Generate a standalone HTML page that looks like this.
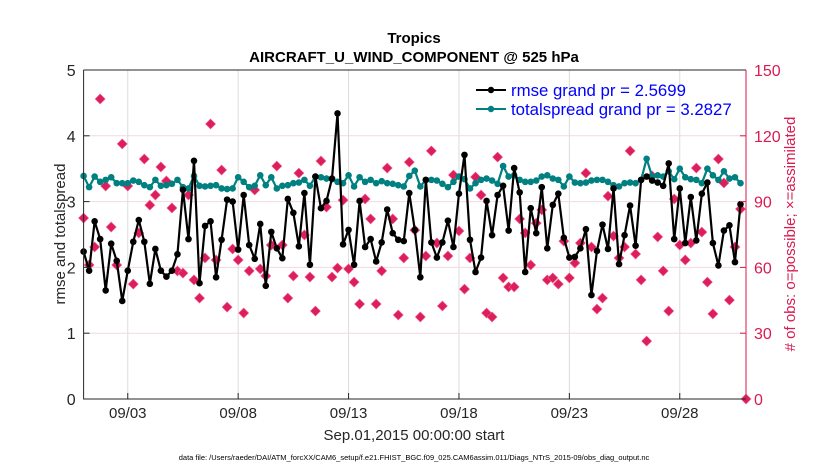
<!DOCTYPE html>
<html><head><meta charset="utf-8"><style>
html,body{margin:0;padding:0;background:#fff;}
svg{display:block;font-family:"Liberation Sans",sans-serif;}
</style></head><body>
<svg id="chart" width="830" height="470" viewBox="0 0 830 470">
<text x="414" y="43" text-anchor="middle" font-size="15" font-weight="bold">Tropics</text>
<text x="414" y="62" text-anchor="middle" font-size="15" font-weight="bold">AIRCRAFT_U_WIND_COMPONENT @ 525 hPa</text>
<g id="grid"></g>
<g id="marks"></g>
<g id="axes"></g>
<text transform="translate(65,234) rotate(-90)" text-anchor="middle" font-size="15" fill="#262626">rmse and totalspread</text>
<text transform="translate(795,234) rotate(-90)" text-anchor="middle" font-size="15" fill="#d81b50"># of obs: o=possible; ×=assimilated</text>
<text x="414" y="440" text-anchor="middle" font-size="15" fill="#262626">Sep.01,2015 00:00:00 start</text>
<text x="414" y="460" text-anchor="middle" font-size="7.5" fill="#000">data file: /Users/raeder/DAI/ATM_forcXX/CAM6_setup/f.e21.FHIST_BGC.f09_025.CAM6assim.011/Diags_NTrS_2015-09/obs_diag_output.nc</text>
<g>
<g>
<line x1="476" y1="90" x2="506" y2="90" stroke="#000" stroke-width="2"/><circle cx="491" cy="90" r="3.2" fill="#000"/>
<text x="511" y="96" font-size="16.8" fill="#0000ff">rmse grand pr = 2.5699</text></g>
<g>
<line x1="476" y1="109" x2="506" y2="109" stroke="#008080" stroke-width="2"/><circle cx="491" cy="109" r="3.2" fill="#008080"/>
<text x="511" y="115" font-size="16.8" fill="#0000ff">totalspread grand pr = 3.2827</text></g>
</g>
</svg>
<script>
const rmse=[2.24,1.95,2.70,2.43,1.65,2.36,2.10,1.49,1.95,2.39,2.72,2.39,1.75,2.28,1.95,1.86,1.95,2.20,3.18,2.43,3.62,
1.76,2.63,2.70,1.85,2.42,3.03,3.00,2.27,3.10,2.34,2.13,2.66,1.72,2.54,2.29,2.14,3.04,2.83,2.32,3.13,
2.04,3.38,2.90,3.01,3.35,4.34,2.35,2.57,2.04,3.01,2.31,2.43,2.09,2.38,2.88,2.52,2.42,2.40,3.13,2.57,
1.85,3.33,2.38,2.15,2.38,2.71,2.31,3.12,3.71,2.42,1.93,2.15,3.01,2.49,3.10,3.24,2.56,3.51,3.14,1.93,
2.90,2.52,3.22,2.29,2.95,3.12,2.45,2.15,2.16,2.29,2.58,1.58,2.25,2.65,2.28,3.20,2.05,2.49,2.94,2.33,
3.33,3.38,3.32,3.29,3.24,3.58,2.43,3.20,2.37,3.07,2.41,3.12,3.29,2.37,2.03,2.56,2.64,2.08,2.96];
const spread=[3.39,3.22,3.38,3.30,3.33,3.37,3.28,3.28,3.28,3.32,3.30,3.25,3.22,3.33,3.24,3.25,3.27,3.33,3.22,3.20,3.39,
3.24,3.23,3.24,3.25,3.20,3.19,3.20,3.37,3.30,3.22,3.24,3.40,3.25,3.37,3.20,3.24,3.25,3.28,3.29,3.33,
3.24,3.38,3.37,3.35,3.34,3.30,3.28,3.40,3.23,3.37,3.30,3.33,3.28,3.31,3.28,3.27,3.25,3.23,3.39,3.47,
3.23,3.33,3.33,3.32,3.27,3.22,3.30,3.38,3.34,3.20,3.28,3.33,3.35,3.32,3.27,3.54,3.38,3.40,3.33,3.30,
3.30,3.32,3.38,3.40,3.35,3.33,3.23,3.38,3.29,3.28,3.29,3.32,3.33,3.33,3.30,3.25,3.23,3.28,3.29,
3.28,3.33,3.65,3.38,3.40,3.38,3.46,3.34,3.50,3.37,3.34,3.33,3.28,3.50,3.40,3.33,3.46,3.35,3.37,3.28];
const nobs=[82.5,61.1,69.3,136.8,97.1,78.4,61.1,116.3,97.1,52.4,75.7,109.4,88.4,93.0,105.8,99.4,87.1,58.4,57.4,93.0,54.3,
46.0,64.3,125.4,63.4,104.4,41.9,68.4,63.4,39.2,58.4,95.3,59.3,56.1,70.2,106.2,70.2,46.0,56.1,103.0,74.8,
55.6,40.1,108.5,87.5,55.6,59.7,90.7,59.3,53.3,43.3,91.2,82.1,43.3,58.4,105.3,82.1,38.3,64.3,108.0,
77.0,37.4,65.2,113.1,71.1,42.4,65.2,102.1,76.6,50.1,64.3,101.2,93.0,39.2,37.4,110.3,55.2,51.1,51.1,82.1,
75.7,61.1,80.2,86.2,54.3,55.2,52.4,72.0,55.2,62.0,71.1,103.0,69.3,41.0,46.0,92.5,74.3,64.3,69.3,113.1,66.1,
54.3,26.4,101.7,73.9,58.4,40.1,91.2,70.2,63.4,71.1,105.3,76.1,53.3,38.8,109.4,98.5,45.1,69.3,86.6,0];
const xTickDays=[2,7,12,17,22,27];
const xTickLabels=["09/03","09/08","09/13","09/18","09/23","09/28"];
const yTicks=[0,1,2,3,4,5];
const y2Ticks=[0,30,60,90,120,150];

const NS="http://www.w3.org/2000/svg";
const L=83.6,R=746,T=70,B=399;
const xDay=d=>L+(d/30)*(R-L);
const xIdx=i=>xDay(i*0.25);
const yL=v=>B-(v/5)*(B-T);
const yR=v=>B-(v/150)*(B-T);
function mk(tag,attrs,parent){const e=document.createElementNS(NS,tag);for(const k in attrs)e.setAttribute(k,attrs[k]);parent.appendChild(e);return e;}
const grid=document.getElementById('grid'),marks=document.getElementById('marks'),axes=document.getElementById('axes');

xTickDays.forEach((d,i)=>{
  const gl=mk('line',{x1:xDay(d),x2:xDay(d),y1:T,y2:B,stroke:'#dcdcdc','stroke-width':1},grid);
  
  
  const tk=mk('line',{x1:xDay(d),x2:xDay(d),y1:B,y2:B-6,stroke:'#262626','stroke-width':1},axes);
  
  
  const t=mk('text',{x:xDay(d),y:418,'text-anchor':'middle','font-size':15,fill:'#262626'},axes);
  t.textContent=xTickLabels[i];
  
  
});
yTicks.forEach(v=>{
  if(v>0&&v<5){const gl=mk('line',{x1:L,x2:R,y1:yL(v),y2:yL(v),stroke:'#efd9e2','stroke-width':1},grid);
  
  }
  const tk=mk('line',{x1:L,x2:L+6,y1:yL(v),y2:yL(v),stroke:'#262626'},axes);
  
  
  const t=mk('text',{x:L-8,y:yL(v)+6,'text-anchor':'end','font-size':16,fill:'#262626'},axes);
  t.textContent=v;
  
  
});
y2Ticks.forEach(v=>{
  const tk=mk('line',{x1:R-6,x2:R,y1:yR(v),y2:yR(v),stroke:'#d81b50'},axes);
  
  
  const t=mk('text',{x:R+8,y:yR(v)+6,'font-size':16,fill:'#d81b50'},axes);
  t.textContent=v;
  
  
});
const frame=mk('path',{d:`M${L},${T}H${R}M${L},${T}V${B}H${R}`,stroke:'#262626',fill:'none','stroke-width':1},axes);


const rax=mk('line',{x1:R,x2:R,y1:T,y2:B,stroke:'#d81b50','stroke-width':1},axes);



nobs.forEach((v,i)=>{
  const x=xIdx(i),y=yR(v);
  const m=mk('path',{d:`M${x},${y-5}L${x+5},${y}L${x},${y+5}L${x-5},${y}Z`,fill:'#dc1e5a',stroke:'#f06090','stroke-width':0.6},marks);
  
  
});
function series(vals,color,name){
  const p=mk('polyline',{points:vals.map((v,i)=>xIdx(i)+','+yL(v)).join(' '),fill:'none',stroke:color,'stroke-width':2.2,'stroke-linejoin':'round'},marks);
  
  
  vals.forEach((v,i)=>{
    const c=mk('circle',{cx:xIdx(i),cy:yL(v),r:3.3,fill:color},marks);
    
    
  });
}
series(spread,'#008080','totalspread');
series(rmse,'#000000','rmse');
</script>
</body></html>
